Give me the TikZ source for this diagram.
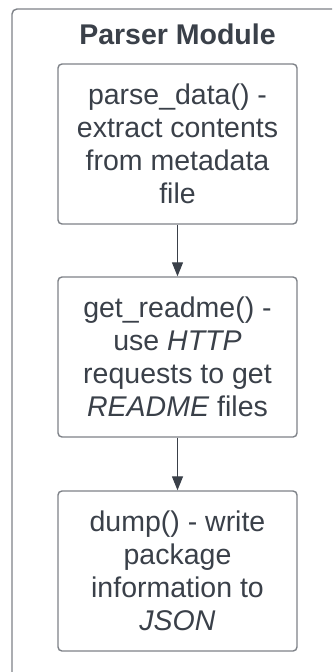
\documentclass[tikz,border=0pt]{standalone}
\usepackage{fontspec}
\setmainfont{Liberation Sans}
\usetikzlibrary{arrows.meta}
\definecolor{inkgray}{HTML}{3A4049}
\definecolor{edgegray}{HTML}{7E8288}
\tikzset{
  x=1pt, y=1pt,
  stepbox/.style={draw=edgegray, line width=1.4pt, rounded corners=4pt,
    minimum width=239pt, minimum height=160pt, align=center,
    text=inkgray, font=\fontsize{28.5}{33}\selectfont, inner sep=0pt},
  flow/.style={draw=inkgray, line width=1.3pt,
    -{Triangle[length=14pt,width=11pt]}}
}
\begin{document}
\begin{tikzpicture}
  \useasboundingbox (0,0) rectangle (332,-672);
  \clip (0,0) rectangle (332,-672);
  \fill[white] (0,0) rectangle (332,-672);
  % container for the module
  \draw[edgegray, line width=1.4pt, rounded corners=5pt] (12,-9) rectangle (350,-700);
  \node[text=inkgray, font=\bfseries\fontsize{28.5}{33}\selectfont] (title) at (177.5,-34) {Parser Module};
  % the three stages
  \node[stepbox] (parse) at (177.5,-144) {parse\_data() -\\extract contents\\from metadata\\file};
  \node[stepbox] (readme) at (177.5,-357) {get\_readme() -\\use \textit{HTTP}\\requests to get\\\textit{README} files};
  \node[stepbox] (dump) at (177.5,-571) {dump() - write\\package\\information to\\\textit{JSON}};
  \draw[flow] (parse) -- (readme);
  \draw[flow] (readme) -- (dump);
\end{tikzpicture}
\end{document}
